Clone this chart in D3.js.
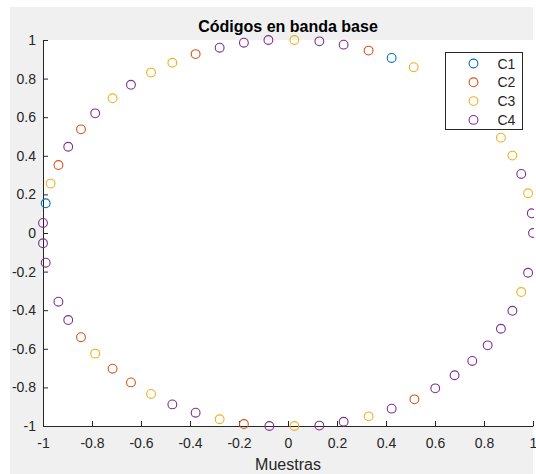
<!DOCTYPE html>
<html>
<head>
<meta charset="utf-8">
<script src="https://cdn.jsdelivr.net/npm/d3@7"></script>
<style>
body { margin: 0; background: #fff; }
text { font-family: "Liberation Sans", Arial, Helvetica, sans-serif; }
</style>
</head>
<body>
<script>
var width = 536,
    height = 474;

// series values (x, y pairs)
var c1x = [-0.989, 0.423];
var c1y = [0.154, 0.907];

var c2x = [-0.377, -0.845, -0.937, 0.329, -0.845, -0.716, -0.641, -0.180, 0.516];
var c2y = [0.927, 0.537, 0.352, 0.945, -0.540, -0.703, -0.774, -0.990, -0.862];

var c3x = [-0.472, -0.559, -0.716, -0.969, 0.026, 0.513, 0.869, 0.916, 0.980, -0.787, -0.559, -0.279, 0.026, 0.329, 0.952];
var c3y = [0.882, 0.831, 0.698, 0.256, 1.000, 0.859, 0.494, 0.401, 0.206, -0.625, -0.834, -0.965, -1.000, -0.950, -0.306];

var c4x = [-0.080, -0.180, -0.279, -0.641, -0.787, -0.897, -1.000, 0.128, 0.227, 0.952, 0.995, 1.000,
           -1.000, -0.989, -0.937, -0.897, -0.472, -0.377, -0.076, 0.128, 0.227, 0.423, 0.601, 0.680,
           0.752, 0.815, 0.869, 0.916, 0.980];
var c4y = [1.000, 0.986, 0.960, 0.768, 0.620, 0.447, 0.052, 0.993, 0.976, 0.306, 0.102, 0.000,
           -0.053, -0.154, -0.356, -0.451, -0.888, -0.931, -1.000, -0.998, -0.978, -0.910, -0.805, -0.737,
           -0.663, -0.582, -0.496, -0.403, -0.206];

var names = ["C1", "C2", "C3", "C4"];
var colors = ["#0072BD", "#D95319", "#EDB120", "#7E2F8E"];
var tickVals = [-1, -0.8, -0.6, -0.4, -0.2, 0, 0.2, 0.4, 0.6, 0.8, 1];
var tickLabels = ["-1", "-0.8", "-0.6", "-0.4", "-0.2", "0", "0.2", "0.4", "0.6", "0.8", "1"];

var series = [[c1x, c1y], [c2x, c2y], [c3x, c3y], [c4x, c4y]];

var svg = d3.select("body").append("svg")
	.attr("width", width)
	.attr("height", height);

svg.append("rect") //figure background
	.attr("x", 10).attr("y", 7)
	.attr("width", 523).attr("height", 467)
	.attr("fill", "#f0f0f0");

var x = d3.scaleLinear().domain([-1, 1]).range([43, 533]);
var y = d3.scaleLinear().domain([-1, 1]).range([426, 40]);

svg.append("rect") //plot area
	.attr("x", x(-1)).attr("y", y(1))
	.attr("width", x(1) - x(-1)).attr("height", y(-1) - y(1))
	.attr("fill", "white");

svg.append("clipPath").attr("id", "clip")
	.append("rect")
	.attr("x", 0).attr("y", 0)
	.attr("width", 534).attr("height", height);

var fmt = function(d){ return tickLabels[tickVals.indexOf(d)]; };

var xAxis = svg.append("g")
	.attr("transform", "translate(0," + y(-1) + ")")
	.call(d3.axisBottom(x).tickValues(tickVals).tickFormat(fmt).tickSizeInner(-5).tickSizeOuter(0).tickPadding(12));

var yAxis = svg.append("g")
	.attr("transform", "translate(" + x(-1) + ",0)")
	.call(d3.axisLeft(y).tickValues(tickVals).tickFormat(fmt).tickSizeInner(-5).tickSizeOuter(0).tickPadding(7));

[xAxis, yAxis].forEach(function(a){
	a.selectAll("path, line").attr("stroke", "#262626");
	a.selectAll("text").attr("fill", "#262626").style("font-size", "14px");
});
xAxis.selectAll("text").attr("dy", "0.71em");

// markers
var plot = svg.append("g").attr("clip-path", "url(#clip)");
series.forEach(function(s, k){
	var pts = s[0].map(function(v, i){ return [v, s[1][i]]; });
	plot.selectAll(null).data(pts).enter()
		.append("circle")
			.attr("cx", function(d){ return x(d[0]); })
			.attr("cy", function(d){ return y(d[1]); })
			.attr("r", 4.4)
			.attr("fill", "none")
			.attr("stroke", colors[k])
			.attr("stroke-width", 1.1);
});

svg.append("text") //title
	.attr("x", (x(-1) + x(1)) / 2)
	.attr("y", 32)
	.attr("text-anchor", "middle")
	.style("font-size", "16px")
	.style("font-weight", "bold")
	.attr("fill", "black")
	.text("Códigos en banda base");

svg.append("text") //x label
	.attr("x", (x(-1) + x(1)) / 2)
	.attr("y", 469.5)
	.attr("text-anchor", "middle")
	.style("font-size", "16px")
	.attr("fill", "#262626")
	.text("Muestras");

// legend
var leg = svg.append("g");
leg.append("rect")
	.attr("x", 445.5).attr("y", 52.5)
	.attr("width", 77).attr("height", 77)
	.attr("fill", "white")
	.attr("stroke", "#262626");

names.forEach(function(n, i){
	var ly = 63.5 + i * 18.8;
	leg.append("circle")
		.attr("cx", 473.5).attr("cy", ly)
		.attr("r", 4.4)
		.attr("fill", "none")
		.attr("stroke", colors[i])
		.attr("stroke-width", 1.1);
	leg.append("text")
		.attr("x", 497.5).attr("y", ly)
		.attr("dy", "0.36em")
		.style("font-size", "14px")
		.attr("fill", "#262626")
		.text(n);
});
</script>
</body>
</html>
